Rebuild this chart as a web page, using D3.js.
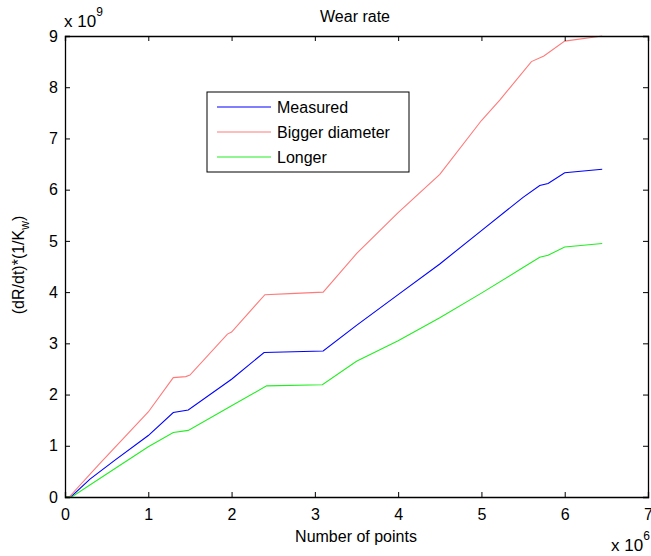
<!DOCTYPE html>
<html>
<head>
<meta charset="utf-8">
<script src="https://cdn.jsdelivr.net/npm/d3@7"></script>
<style>
  body { margin: 0; background: #fff; }
  text { font-family: "Liberation Sans", Arial, sans-serif; fill: #000; }
</style>
</head>
<body>
<div id="chart"></div>
<script>
// values: x in units of 1e6 points, y in units of 1e9
const xTicks = [0, 1, 2, 3, 4, 5, 6, 7];
const yTicks = [0, 1, 2, 3, 4, 5, 6, 7, 8, 9];

const measuredX = [0, 0.07, 0.3, 0.6, 1.0, 1.3, 1.48, 2.0, 2.39, 3.1, 3.5, 4.0, 4.5, 5.0, 5.5, 5.7, 5.8, 6.0, 6.45];
const measuredY = [0, 0, 0.35, 0.72, 1.2, 1.65, 1.70, 2.3, 2.82, 2.85, 3.35, 3.95, 4.55, 5.2, 5.85, 6.08, 6.12, 6.33, 6.4];

const biggerX = [0, 0.05, 0.4, 1.0, 1.3, 1.45, 1.5, 1.95, 2.0, 2.4, 2.7, 3.1, 3.5, 4.0, 4.5, 5.0, 5.22, 5.6, 5.75, 6.0, 6.45];
const biggerY = [0, 0, 0.62, 1.66, 2.33, 2.35, 2.38, 3.18, 3.22, 3.95, 3.97, 4.0, 4.75, 5.55, 6.3, 7.35, 7.75, 8.5, 8.61, 8.9, 9.0];

const longerX = [0, 0.08, 0.5, 1.0, 1.3, 1.48, 2.0, 2.42, 3.09, 3.5, 4.0, 4.5, 5.0, 5.5, 5.7, 5.8, 6.0, 6.45];
const longerY = [0, 0, 0.45, 0.98, 1.26, 1.30, 1.78, 2.17, 2.19, 2.65, 3.05, 3.5, 3.98, 4.48, 4.68, 4.72, 4.88, 4.95];

const seriesNames = ["Measured", "Bigger diameter", "Longer"];
const seriesColors = ["#0000ff", "#ff7a7a", "#22ee22"];

const width = 651, height = 556;
const margin = {top: 36, right: 3, bottom: 59, left: 65};
const pw = width - margin.left - margin.right,
      ph = height - margin.top - margin.bottom;

const svg = d3.select("#chart").append("svg")
  .attr("width", width)
  .attr("height", height);

const x = d3.scaleLinear().domain([0, 7]).range([margin.left, margin.left + pw]);
const y = d3.scaleLinear().domain([0, 9]).range([margin.top + ph, margin.top]);

// lines
const series = [
  {x: measuredX, y: measuredY},
  {x: biggerX, y: biggerY},
  {x: longerX, y: longerY}
];
const line = d3.line().x(d => x(d[0])).y(d => y(d[1]));
series.forEach(function(s, i) {
  svg.append("path")
    .datum(s.x.map((v, j) => [v, s.y[j]]))
    .attr("d", line)
    .attr("fill", "none")
    .attr("stroke", seriesColors[i])
    .attr("stroke-width", 1.1);
});

// axes (MATLAB style box with inward ticks on all sides)
const fs = "16px";
svg.append("g")
  .attr("transform", `translate(0,${margin.top + ph})`)
  .call(d3.axisBottom(x).tickValues(xTicks).tickSize(-5).tickPadding(12).tickFormat(d3.format("d")))
  .call(g => g.selectAll("text").style("font-size", fs));
svg.append("g")
  .attr("transform", `translate(0,${margin.top})`)
  .call(d3.axisTop(x).tickValues(xTicks).tickSize(-5).tickFormat(""));
svg.append("g")
  .attr("transform", `translate(${margin.left},0)`)
  .call(d3.axisLeft(y).tickValues(yTicks).tickSize(-5).tickPadding(7).tickFormat(d3.format("d")))
  .call(g => g.selectAll("text").style("font-size", fs));
svg.append("g")
  .attr("transform", `translate(${margin.left + pw},0)`)
  .call(d3.axisRight(y).tickValues(yTicks).tickSize(-5).tickFormat(""));
svg.selectAll(".domain").attr("stroke", "#000").attr("stroke-width", 1.3);
svg.selectAll(".tick line").attr("stroke", "#000");

// exponent labels
const e9 = svg.append("text").attr("x", 64).attr("y", 27).style("font-size", "17px");
e9.append("tspan").text("x 10");
e9.append("tspan").attr("dy", -11).style("font-size", "12px").text("9");
const e6 = svg.append("text").attr("x", 611).attr("y", 551).style("font-size", "17px");
e6.append("tspan").text("x 10");
e6.append("tspan").attr("dy", -11).style("font-size", "12px").text("6");

// title and labels
svg.append("text").attr("x", 355).attr("y", 22).attr("text-anchor", "middle")
  .style("font-size", "16px").text("Wear rate");
svg.append("text").attr("x", 356).attr("y", 542).attr("text-anchor", "middle")
  .style("font-size", "16px").text("Number of points");
const yl = svg.append("text")
  .attr("transform", "translate(24,265) rotate(-90)")
  .attr("text-anchor", "middle")
  .style("font-size", "16px");
yl.append("tspan").text("(dR/dt)*(1/K");
yl.append("tspan").attr("dy", 5).style("font-size", "12px").text("w");
yl.append("tspan").attr("dy", -5).text(")");

// legend
const lg = svg.append("g");
lg.append("rect").attr("x", 207).attr("y", 92).attr("width", 202).attr("height", 80)
  .attr("fill", "#fff").attr("stroke", "#000").attr("stroke-width", 1);
seriesNames.forEach(function(name, i) {
  const ry = 107 + i * 25;
  lg.append("line").attr("x1", 217).attr("x2", 271).attr("y1", ry).attr("y2", ry)
    .attr("stroke", seriesColors[i]).attr("stroke-width", 1.1);
  lg.append("text").attr("x", 277).attr("y", ry + 6).style("font-size", "16px").text(name);
});
</script>
</body>
</html>
